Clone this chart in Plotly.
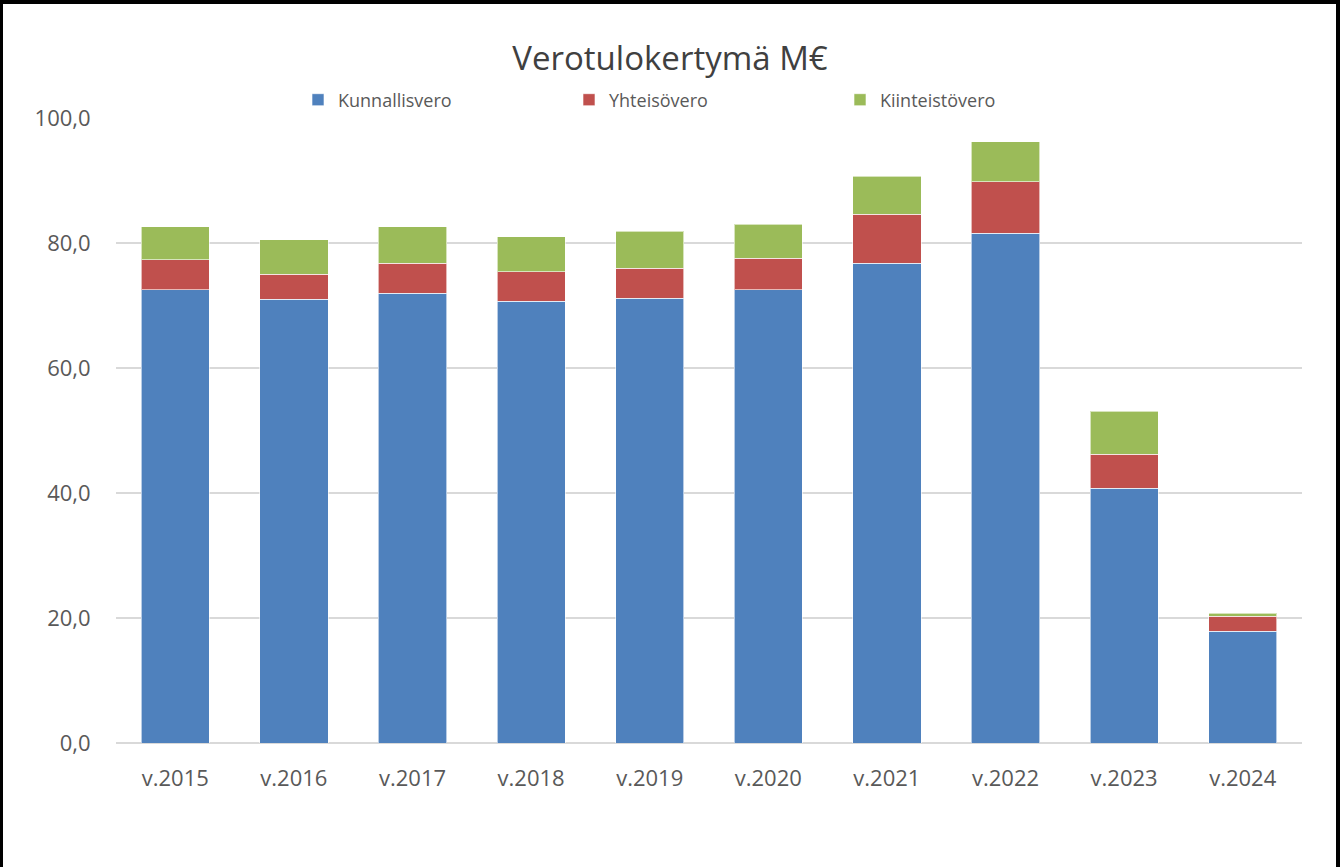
import plotly.graph_objects as go

years = ["v.2015", "v.2016", "v.2017", "v.2018", "v.2019", "v.2020", "v.2021", "v.2022", "v.2023", "v.2024"]
kunnallisvero = [72.5, 71.0, 72.0, 70.7, 71.2, 72.5, 76.8, 81.6, 40.8, 17.9]
yhteisovero = [4.8, 4.0, 4.8, 4.7, 4.8, 5.1, 7.8, 8.2, 5.4, 2.4]
kiinteistovero = [5.3, 5.5, 5.8, 5.6, 5.9, 5.4, 6.1, 6.4, 6.9, 0.5]
series_names = ["Kunnallisvero", "Yhteisövero", "Kiinteistövero"]
colors = ["#4f81bd", "#c0504d", "#9bbb59"]

W, H = 1340, 867
L, R, T, B = 116, 38, 118, 124
FONT = "Open Sans"

fig = go.Figure()
for name, vals, col in zip(series_names, [kunnallisvero, yhteisovero, kiinteistovero], colors):
    fig.add_trace(go.Bar(x=years, y=vals, name=name, marker=dict(color=col, line=dict(color="rgba(255,255,255,0.6)", width=1))))

pw = W - L - R
ph = H - T - B
def px_x(p):
    return (p - L) / pw
def px_y(p):
    return (H - B - p) / ph

fig.update_layout(
    width=W, height=H,
    barmode="stack", bargap=0.425,
    separators=", ",
    paper_bgcolor="white", plot_bgcolor="white",
    margin=dict(l=L, r=R, t=T, b=B, autoexpand=False),
    font=dict(family=FONT, color="#595959"),
    title=dict(text="Verotulokertymä M€", x=px_x(670), xanchor="center", xref="paper", y=1 - 58 / H, yanchor="middle",
               font=dict(size=33, color="#404040", family=FONT)),
    legend=dict(orientation="h", x=px_x(298), xanchor="left", y=px_y(100), yanchor="middle",
                font=dict(size=18, color="#595959"), entrywidth=226, entrywidthmode="pixels",
                itemwidth=30, traceorder="normal", bgcolor="rgba(0,0,0,0)"),
    showlegend=True,
    shapes=[dict(type="rect", xref="paper", yref="paper", x0=px_x(1), x1=px_x(1338), y0=px_y(2), y1=px_y(900),
                 line=dict(color="black", width=4), fillcolor="rgba(0,0,0,0)", layer="above")],
)
fig.update_xaxes(showgrid=False, showline=False, ticks="outside", ticklen=16, tickcolor="rgba(0,0,0,0)",
                 tickfont=dict(size=22, color="#595959"))
fig.update_yaxes(range=[0, 100], dtick=20, tickformat=".1f", showgrid=True, gridcolor="#d9d9d9", gridwidth=2,
                 zeroline=True, zerolinecolor="#d9d9d9", zerolinewidth=2, showline=False,
                 ticks="outside", ticklen=20, tickcolor="rgba(0,0,0,0)", tickfont=dict(size=22, color="#595959"))

fig.write_html("out.html", config={"displayModeBar": False}, post_script="document.body.style.margin='0';")
